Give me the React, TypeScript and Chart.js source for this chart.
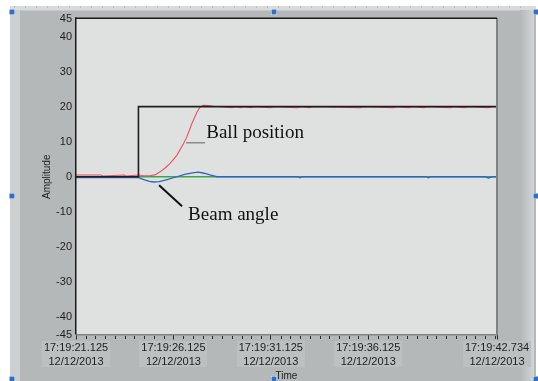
import React, { useEffect, useRef } from "react";
import { Chart, registerables } from "chart.js";

Chart.register(...registerables);

// ---- axis / tick data ----
const TIME_MIN = 21.125;
const TIME_MAX = 42.734;
const xTickValues = [21.125, 26.125, 31.125, 36.125, 42.734];
const xTickPrefix = "17:19:";
const xTickDate = "12/12/2013";
const xMinorStep = 0.5;
const yTickValues = [45, 40, 30, 20, 10, 0, -10, -20, -30, -40, -45];
const Y_MIN = -45;
const Y_MAX = 45;

// ---- series ----
const setpointT = [21.125, 24.33, 24.33, 42.734];
const setpointV = [0, 0, 20, 20];

const ballT = [
  21.125, 22.4, 22.5, 23.6, 23.7, 24.33, 24.6, 24.93, 25.2, 25.44, 25.7, 25.955, 26.3, 26.64, 26.81, 27.07, 27.33, 27.5,
  27.67, 27.9, 28.2, 28.6, 29.14, 29.3, 29.55, 29.75, 30.07, 30.3, 31.09, 31.3, 32.48, 32.7,
  33.1, 33.3, 35.72, 35.9, 37.41, 37.6, 38.19, 38.4, 38.96, 39.2, 40.34, 40.5, 41.06, 41.3,
  42.25, 42.5, 42.734,
];
const ballV = [
  0.5, 0.5, 0.2, 0.5, 0.2, 0.5, 0.3, 0.3, 0.6, 1.4, 2.5, 3.8, 6.1, 9.4, 11.3, 15.1, 18.4, 19.9,
  20.4, 20.3, 20.1, 20.0, 19.7, 20.0, 19.7, 20.0, 19.7, 20.0, 19.7, 20.0, 19.7, 20.0,
  19.7, 20.0, 19.7, 20.0, 19.7, 20.0, 19.7, 20.0, 19.7, 20.0, 19.7, 20.0, 19.7, 20.0,
  19.7, 20.0, 20.0,
];

const beamT = [
  21.125, 24.33, 24.6, 24.9, 25.1, 25.4, 25.8, 26.3, 26.7, 27.1, 27.41, 27.7, 28.0, 28.35,
  32.5, 32.62, 32.75, 39.1, 39.21, 39.32, 42.1, 42.3, 42.5, 42.734,
];
const beamV = [
  -0.25, -0.25, -0.8, -1.3, -1.5, -1.4, -0.8, 0.0, 0.7, 1.1, 1.3, 1.0, 0.5, 0.0,
  0.0, -0.3, 0.0, 0.0, -0.3, 0.0, 0.0, -0.35, 0.0, 0.0,
];

const beamRefT = [21.125, 42.734];
const beamRefV = [0, 0];

// ---- annotations (data coordinates) ----
const ballLabel = { text: "Ball position", t: 27.81, v: 11.1 };
const ballLeader = { t1: 26.78, t2: 27.75, v: 9.7 };
const beamLabel = { text: "Beam angle", t: 26.88, v: -12.3 };
const beamLeader = { t1: 25.39, v1: -2.4, t2: 26.57, v2: -8.4 };

const toXY = (ts: number[], vs: number[]) => ts.map((t, i) => ({ x: t, y: vs[i] }));
const xLabel = (v: number) => [xTickPrefix + Number(v).toFixed(3), xTickDate];

const W = 538;
const H = 381;
const PLOT = { left: 76, top: 19, right: 497, bottom: 334.5 };
const TICK_FONT = "11px 'Liberation Sans', Arial, sans-serif";

const framePlugin = {
  id: "frame",
  beforeDraw(chart: any) {
    const ctx = chart.ctx;
    ctx.save();
    ctx.fillStyle = "#ffffff";
    ctx.fillRect(0, 0, W, H);
    // top ruler strip
    ctx.fillStyle = "#d9dbdb";
    ctx.fillRect(10, 6, 526, 4);
    ctx.fillStyle = "#b8bcbc";
    for (let x = 14; x < 530; x += 11) ctx.fillRect(x, 6, 1, 2);
    // frame
    ctx.fillStyle = "#b4b8b8";
    ctx.fillRect(10, 10, 526, H - 10);
    ctx.fillStyle = "#cdd0d0";
    ctx.fillRect(10, 10, 10, H - 10);
    const g = ctx.createLinearGradient(520, 0, 534, 0);
    g.addColorStop(0, "#b4b8b8");
    g.addColorStop(1, "#d2d5d5");
    ctx.fillStyle = g;
    ctx.fillRect(520, 10, 14, H - 10);
    ctx.fillStyle = "#c4c7c7";
    ctx.fillRect(20, 10, 500, 1);
    // plot area
    const ca = chart.chartArea;
    ctx.fillStyle = "#dfe1e0";
    ctx.fillRect(ca.left, 18, ca.right - ca.left, ca.bottom - 18);
    // x label backdrops
    const xs = chart.scales.x;
    ctx.font = TICK_FONT;
    ctx.fillStyle = "#bcc0c0";
    for (const v of xTickValues) {
      const lines = xLabel(v);
      const w = Math.max(...lines.map((l) => ctx.measureText(l).width)) + 4;
      const px = xs.getPixelForValue(v);
      ctx.fillRect(Math.round(px - w / 2), 341, Math.round(w), 26);
    }
    ctx.restore();
  },
  afterDatasetsDraw(chart: any) {
    const ctx = chart.ctx;
    const ca = chart.chartArea;
    ctx.save();
    // borders
    ctx.fillStyle = "#7f8383";
    ctx.fillRect(ca.right - 1, 18, 2, ca.bottom - 18 + 1);
    ctx.fillRect(ca.left, ca.bottom - 0.5, ca.right - ca.left, 1.5);
    ctx.fillStyle = "#1a1a1a";
    ctx.fillRect(ca.left - 1, 17.5, ca.right - ca.left + 1, 1.5);
    ctx.fillRect(ca.left - 1, 17.5, 1.5, ca.bottom - 17.5);

    // annotations
    const xs = chart.scales.x;
    const ys = chart.scales.y;
    ctx.fillStyle = "#111111";
    ctx.font = "19px 'Liberation Serif', 'Times New Roman', serif";
    ctx.textBaseline = "alphabetic";
    ctx.textAlign = "left";
    ctx.fillText(ballLabel.text, xs.getPixelForValue(ballLabel.t), ys.getPixelForValue(ballLabel.v));
    ctx.fillText(beamLabel.text, xs.getPixelForValue(beamLabel.t), ys.getPixelForValue(beamLabel.v));
    ctx.strokeStyle = "#8a8a8a";
    ctx.lineWidth = 1.5;
    ctx.beginPath();
    ctx.moveTo(xs.getPixelForValue(ballLeader.t1), ys.getPixelForValue(ballLeader.v));
    ctx.lineTo(xs.getPixelForValue(ballLeader.t2), ys.getPixelForValue(ballLeader.v));
    ctx.stroke();
    ctx.strokeStyle = "#111111";
    ctx.lineWidth = 2;
    ctx.beginPath();
    ctx.moveTo(xs.getPixelForValue(beamLeader.t1), ys.getPixelForValue(beamLeader.v1));
    ctx.lineTo(xs.getPixelForValue(beamLeader.t2), ys.getPixelForValue(beamLeader.v2));
    ctx.stroke();
    ctx.restore();
  },
  afterDraw(chart: any) {
    const ctx = chart.ctx;
    const ca = chart.chartArea;
    const xs = chart.scales.x;
    ctx.save();
    // minor ticks
    ctx.fillStyle = "#2a2a2a";
    for (let t = TIME_MIN; t <= TIME_MAX + 1e-9; t += xMinorStep) {
      if (xTickValues.some((v) => Math.abs(v - t) < 1e-6)) continue;
      const px = Math.round(xs.getPixelForValue(t));
      ctx.fillRect(px, Math.round(ca.bottom) + 1, 1, 3);
    }
    // axis titles
    ctx.fillStyle = "#1e1e1e";
    ctx.font = "10px 'Liberation Sans', Arial, sans-serif";
    ctx.textAlign = "center";
    ctx.textBaseline = "middle";
    ctx.fillText("Time", (ca.left + ca.right) / 2, 376);
    ctx.translate(47.5, (ca.top + ca.bottom) / 2);
    ctx.rotate(-Math.PI / 2);
    ctx.fillText("Amplitude", 0, 0);
    ctx.restore();
    // selection handles
    ctx.save();
    const handles = [
      [9, 9], [271, 9], [533, 9],
      [9, 193], [533, 193],
      [9, 376], [271, 376], [533, 376],
    ];
    for (const [hx, hy] of handles) {
      ctx.fillStyle = "#ffffff";
      ctx.fillRect(hx, hy, 6, 6);
      ctx.fillStyle = "#2f6fc6";
      ctx.fillRect(hx + 0.5, hy + 0.5, 5, 5);
    }
    ctx.restore();
  },
};

export default function App() {
  const ref = useRef<HTMLCanvasElement>(null);
  useEffect(() => {
    if (!ref.current) return;
    const tickFont = { family: "'Liberation Sans', Arial, sans-serif", size: 11, lineHeight: 1.22 };
    const chart = new Chart(ref.current, {
      type: "line",
      data: {
        datasets: [
          {
            label: "Setpoint",
            data: toXY(setpointT, setpointV),
            borderColor: "#1e1e1e",
            borderWidth: 1.6,
            pointRadius: 0,
            tension: 0,
          },
          {
            label: "Ball position",
            data: toXY(ballT, ballV),
            borderColor: "#ee4d63",
            borderWidth: 1.1,
            pointRadius: 0,
            tension: 0,
          },
          {
            label: "Beam angle",
            data: toXY(beamT, beamV),
            borderColor: "#2f63c8",
            borderWidth: 1.3,
            pointRadius: 0,
            tension: 0,
          },
          {
            label: "Beam reference",
            data: toXY(beamRefT, beamRefV),
            borderColor: "#3aa845",
            borderWidth: 1.3,
            pointRadius: 0,
            tension: 0,
          },
        ],
      },
      options: {
        responsive: false,
        animation: false,
        devicePixelRatio: 1,
        layout: { padding: { left: 0, top: PLOT.top, right: W - PLOT.right, bottom: 0 } },
        plugins: { legend: { display: false }, tooltip: { enabled: false } },
        scales: {
          x: {
            type: "linear",
            min: TIME_MIN,
            max: TIME_MAX,
            afterBuildTicks: (s: any) => {
              s.ticks = xTickValues.map((v) => ({ value: v }));
            },
            afterFit: (s: any) => {
              s.height = H - PLOT.bottom;
            },
            border: { display: false },
            grid: {
              display: true,
              drawOnChartArea: false,
              drawTicks: true,
              tickLength: 5,
              color: "#2a2a2a",
              lineWidth: 1,
            },
            ticks: {
              autoSkip: false,
              maxRotation: 0,
              minRotation: 0,
              padding: 2,
              color: "#1e1e1e",
              font: tickFont,
              callback: (v: any) => xLabel(v),
            },
          },
          y: {
            type: "linear",
            min: Y_MIN,
            max: Y_MAX,
            afterBuildTicks: (s: any) => {
              s.ticks = yTickValues.map((v) => ({ value: v }));
            },
            afterFit: (s: any) => {
              s.width = PLOT.left;
            },
            border: { display: false },
            grid: { display: false, drawTicks: false },
            ticks: {
              autoSkip: false,
              padding: 4,
              color: "#1e1e1e",
              font: { family: "'Liberation Sans', Arial, sans-serif", size: 11 },
              callback: (v: any) => String(v),
            },
          },
        },
      },
      plugins: [framePlugin],
    } as any);
    return () => chart.destroy();
  }, []);
  return (
    <div style={{ position: "fixed", left: 0, top: 0, width: W, height: H }}>
      <canvas ref={ref} width={W} height={H} style={{ display: "block" }} />
    </div>
  );
}
